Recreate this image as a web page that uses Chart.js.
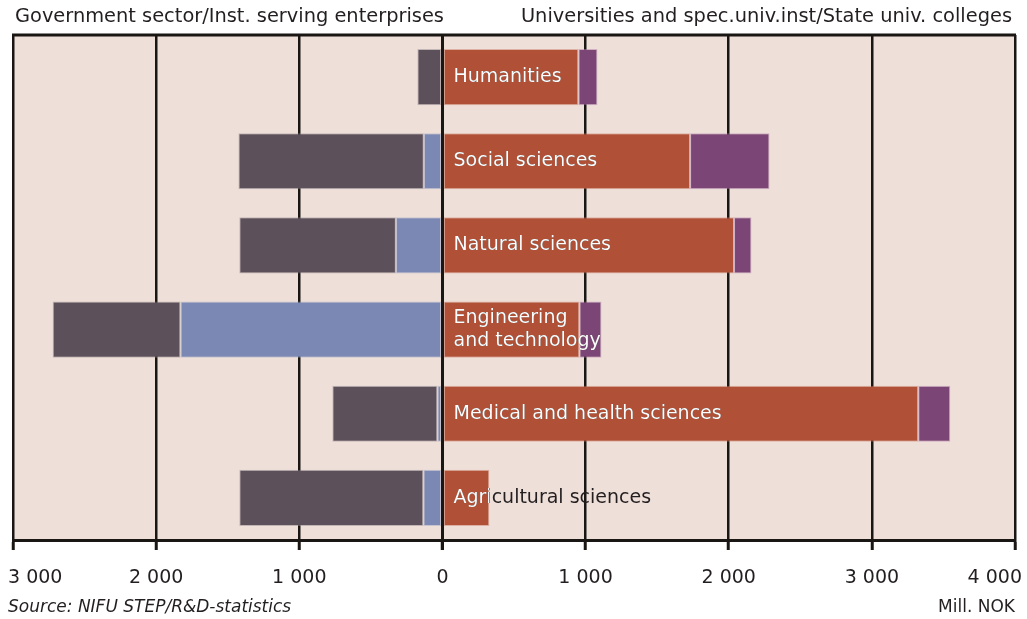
<!DOCTYPE html>
<html>
<head>
<meta charset="utf-8">
<script src="https://cdn.jsdelivr.net/npm/chart.js@4/dist/chart.umd.min.js"></script>
<style>
  html, body { margin: 0; padding: 0; background: #ffffff; }
  #wrap { width: 1027px; height: 619px; position: relative; }
</style>
</head>
<body>
<div id="wrap"><canvas id="c" width="1027" height="619"></canvas></div>
<script>
// ---- Data (Mill. NOK) ----
const categories = [
  ['Humanities'],
  ['Social sciences'],
  ['Natural sciences'],
  ['Engineering', 'and technology'],
  ['Medical and health sciences'],
  ['Agricultural sciences']
];
// Left side (drawn as negative values)
const instServingEnterprises = [0, -130, -325, -1830, -35, -133];
const governmentSector      = [-175, -1295, -1094, -893, -734, -1286];
// Right side
const universities          = [950, 1730, 2037, 957, 3324, 328];
const stateUnivColleges     = [133, 555, 122, 154, 224, 0];

const tickValues = [-3000, -2000, -1000, 0, 1000, 2000, 3000, 4000];
const leftTitle  = 'Government sector/Inst. serving enterprises';
const rightTitle = 'Universities and spec.univ.inst/State univ. colleges';
const sourceText = 'Source: NIFU STEP/R&D-statistics';
const unitText   = 'Mill. NOK';

const FONT = '"DejaVu Sans", Verdana, sans-serif';
const BG = '#EEDFD9';

function fmt(v) {
  const a = Math.abs(v);
  return a >= 1000 ? Math.floor(a / 1000) + ' ' + String(a % 1000).padStart(3, '0') : String(a);
}

const framePlugin = {
  id: 'frame',
  beforeDraw(chart) {
    const {ctx, chartArea: a} = chart;
    ctx.save();
    ctx.fillStyle = BG;
    ctx.fillRect(a.left, a.top, a.right - a.left, a.bottom - a.top);
    ctx.restore();
  },
  afterDatasetsDraw(chart) {
    const {ctx, chartArea: a, scales} = chart;
    const x = scales.x, y = scales.y;
    ctx.save();
    // zero line on top of bars
    const x0 = Math.round(x.getPixelForValue(0)) + 0.5;
    ctx.strokeStyle = '#1a1613';
    ctx.lineWidth = 3;
    ctx.beginPath();
    ctx.moveTo(x0, a.top);
    ctx.lineTo(x0, a.bottom + 10);
    ctx.stroke();
    // top border
    ctx.beginPath();
    ctx.moveTo(a.left - 1, a.top);
    ctx.lineTo(a.right + 1, a.top);
    ctx.stroke();

    // category labels: dark outside bars, white inside bars
    const uMeta = chart.getDatasetMeta(2);
    const sMeta = chart.getDatasetMeta(3);
    ctx.font = '19px ' + FONT;
    ctx.textBaseline = 'middle';
    ctx.textAlign = 'left';
    categories.forEach((lines, i) => {
      const cy = y.getPixelForValue(i);
      const tx = x0 + 11;
      const lh = 23;
      const startY = cy - (lines.length - 1) * lh / 2;
      const drawText = (color) => {
        ctx.fillStyle = color;
        lines.forEach((ln, k) => ctx.fillText(ln, tx, startY + k * lh));
      };
      drawText('#231f20');
      ctx.save();
      ctx.beginPath();
      [uMeta.data[i], sMeta.data[i]].forEach(el => {
        if (!el) return;
        const p = el.getProps(['x', 'y', 'base', 'height'], true);
        const l = Math.min(p.x, p.base), r = Math.max(p.x, p.base);
        ctx.rect(l, p.y - p.height / 2, r - l, p.height);
      });
      ctx.clip();
      drawText('#ffffff');
      ctx.restore();
    });

    // tick labels
    ctx.font = '19px ' + FONT;
    ctx.fillStyle = '#231f20';
    ctx.textAlign = 'center';
    const W = chart.width;
    tickValues.forEach(v => {
      const s = fmt(v);
      const w = ctx.measureText(s).width;
      let px = x.getPixelForValue(v);
      px = Math.max(px, 8 + w / 2);
      px = Math.min(px, W - 5 - w / 2);
      ctx.fillText(s, px, 578);
    });

    // titles
    ctx.font = '19.4px ' + FONT;
    ctx.textAlign = 'left';
    ctx.fillText(leftTitle, 15, 17);
    ctx.textAlign = 'right';
    ctx.fillText(rightTitle, 1012, 17);

    ctx.font = 'italic 17px ' + FONT;
    ctx.textAlign = 'left';
    ctx.fillText(sourceText, 8, 608);
    ctx.font = '17px ' + FONT;
    ctx.textAlign = 'right';
    ctx.fillText(unitText, 1015, 608);
    ctx.restore();
  }
};

const barCommon = { borderWidth: 1, borderSkipped: false, categoryPercentage: 0.667, barPercentage: 1.0 };

new Chart(document.getElementById('c'), {
  type: 'bar',
  data: {
    labels: categories.map(l => l.join(' ')),
    datasets: [
      Object.assign({ label: 'Inst. serving enterprises', data: instServingEnterprises,
        backgroundColor: '#7B88B3', borderColor: 'rgba(160,170,200,0.5)' }, barCommon),
      Object.assign({ label: 'Government sector', data: governmentSector,
        backgroundColor: '#5C505B', borderColor: 'rgba(150,140,145,0.5)' }, barCommon),
      Object.assign({ label: 'Universities and spec.univ.inst', data: universities,
        backgroundColor: '#B05036', borderColor: 'rgba(205,130,110,0.5)' }, barCommon),
      Object.assign({ label: 'State univ. colleges', data: stateUnivColleges,
        backgroundColor: '#7B4675', borderColor: 'rgba(180,130,175,0.5)' }, barCommon)
    ]
  },
  options: {
    indexAxis: 'y',
    responsive: false,
    animation: false,
    layout: { padding: { left: 13, right: 12, top: 35, bottom: 0 } },
    plugins: { legend: { display: false }, tooltip: { enabled: false } },
    scales: {
      x: {
        type: 'linear',
        stacked: true,
        min: -3000,
        max: 4000,
        afterBuildTicks(scale) { scale.ticks = tickValues.map(v => ({ value: v })); },
        afterFit(scale) { scale.height = 79; },
        ticks: { display: false },
        grid: { color: '#1a1613', lineWidth: 2.5, drawTicks: true, tickLength: 10, tickColor: '#1a1613', tickWidth: 3 },
        border: { display: true, color: '#1a1613', width: 3 }
      },
      y: {
        type: 'category',
        stacked: true,
        display: false,
        grid: { display: false }
      }
    }
  },
  plugins: [framePlugin]
});
</script>
</body>
</html>
